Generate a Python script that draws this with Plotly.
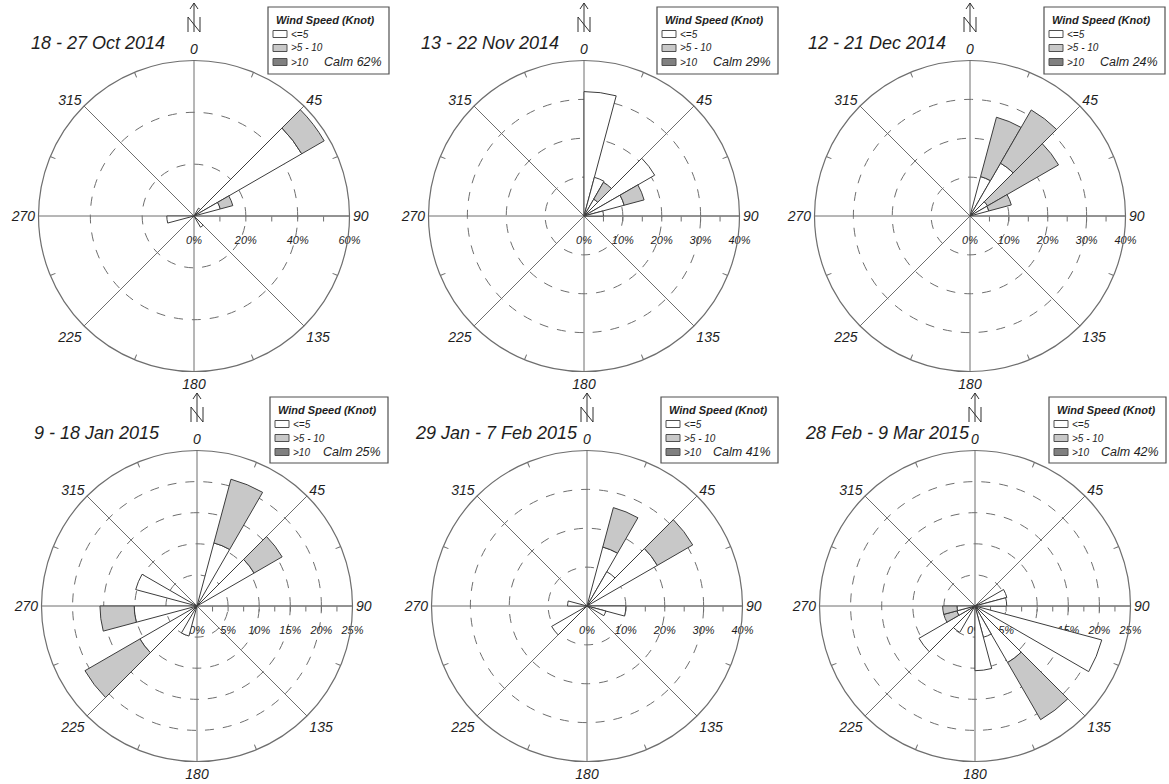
import plotly.graph_objects as go

# ---------------- data ----------------
directions = [7.5, 22.5, 37.5, 52.5, 67.5, 82.5, 97.5, 112.5, 127.5, 142.5, 157.5, 172.5,
              187.5, 202.5, 217.5, 232.5, 247.5, 262.5, 277.5, 292.5, 307.5, 322.5, 337.5, 352.5]
speed_classes = ["<=5", ">5 - 10", ">10"]
compass_labels = ["0", "45", "90", "135", "180", "225", "270", "315"]
compass_angles = [0, 45, 90, 135, 180, 225, 270, 315]

period_titles = ["18 - 27 Oct 2014", "13 - 22 Nov 2014", "12 - 21 Dec 2014",
                 "9 - 18 Jan 2015", "29 Jan - 7 Feb 2015", "28 Feb - 9 Mar 2015"]
calm_percent = [62, 29, 24, 25, 41, 42]
radial_max = [60, 40, 40, 25, 40, 25]
radial_major = [
    [0, 20, 40, 60],
    [0, 10, 20, 30, 40],
    [0, 10, 20, 30, 40],
    [0, 5, 10, 15, 20, 25],
    [0, 10, 20, 30, 40],
    [0, 5, 10, 15, 20, 25],
]
radial_minor = [
    [10, 20, 30, 40, 50],
    [5, 10, 15, 20, 25, 30, 35],
    [5, 10, 15, 20, 25, 30, 35],
    [2.5, 5, 7.5, 10, 12.5, 15, 17.5, 20, 22.5],
    [5, 10, 15, 20, 25, 30, 35],
    [2.5, 5, 7.5, 10, 12.5, 15, 17.5, 20, 22.5],
]

#            0-15 15-30 30-45 45-60 60-75 75-90 90-105 105-120 120-135 135-150 150-165 165-180 180-195 195-210 210-225 225-240 240-255 255-270 270-285 285-300 300-315 315-330 330-345 345-360
oct_low  = [0, 0, 3.5, 48, 10.5, 0, 0, 0, 0, 5, 0, 0, 0, 0, 0, 0, 0, 10.5, 0, 0, 0, 0, 0, 0]
oct_mid  = [0, 0, 0, 10, 5, 0, 0, 0, 0, 0, 0, 0, 0, 0, 0, 0, 0, 0, 0, 0, 0, 0, 0, 0]
oct_high = [0, 0, 0, 0, 0, 0, 0, 0, 0, 0, 0, 0, 0, 0, 0, 0, 0, 0, 0, 0, 0, 0, 0, 0]

nov_low  = [32, 10.3, 5, 21, 10.7, 5, 0, 0, 0, 0, 0, 0, 0, 0, 0, 0, 0, 0, 0, 0, 0, 0, 0, 0]
nov_mid  = [0, 0, 5, 0, 5.3, 0, 0, 0, 0, 0, 0, 0, 0, 0, 0, 0, 0, 0, 0, 0, 0, 0, 0, 0]
nov_high = [0, 0, 0, 0, 0, 0, 0, 0, 0, 0, 0, 0, 0, 0, 0, 0, 0, 0, 0, 0, 0, 0, 0, 0]

dec_low  = [0, 10.5, 15.7, 5.2, 5, 0, 0, 0, 0, 0, 0, 0, 0, 0, 0, 0, 0, 0, 0, 0, 0, 0, 0, 0]
dec_mid  = [0, 15.8, 15.8, 21.1, 6, 0, 0, 0, 0, 0, 0, 0, 0, 0, 0, 0, 0, 0, 0, 0, 0, 0, 0, 0]
dec_high = [0, 0, 0, 0, 0, 0, 0, 0, 0, 0, 0, 0, 0, 0, 0, 0, 0, 0, 0, 0, 0, 0, 0, 0]

jan_low  = [0, 10.5, 0, 10.6, 0, 0, 0, 0, 0, 0, 0, 0, 0, 5, 0, 10.6, 0, 10.1, 0, 10.2, 0, 0, 0, 0]
jan_mid  = [0, 10.6, 0, 5.2, 0, 0, 0, 0, 0, 0, 0, 0, 0, 0, 0, 10.2, 0, 5.5, 0, 0, 0, 0, 0, 0]
jan_high = [0, 0, 0, 0, 0, 0, 0, 0, 0, 0, 0, 0, 0, 0, 0, 0, 0, 0, 0, 0, 0, 0, 0, 0]

feb_low  = [0, 15.7, 10.2, 20.9, 0, 0, 10, 5, 0, 0, 0, 0, 0, 0, 0, 10.5, 0, 0, 5, 0, 0, 0, 0, 0]
feb_mid  = [0, 10.5, 0, 10.5, 0, 0, 0, 0, 0, 0, 0, 0, 0, 0, 0, 0, 0, 0, 0, 0, 0, 0, 0, 0]
feb_high = [0, 0, 0, 0, 0, 0, 0, 0, 0, 0, 0, 0, 0, 0, 0, 0, 0, 0, 0, 0, 0, 0, 0, 0]

mar_low  = [0, 0, 0, 0, 5.3, 5.1, 0, 21.1, 0, 10.5, 5.2, 10.4, 0, 0, 4.9, 10.4, 3, 2.9, 0, 0, 0, 0, 0, 0]
mar_mid  = [0, 0, 0, 0, 0, 0, 0, 0, 0, 10.6, 0, 0, 0, 0, 0, 0, 2.2, 2.3, 0, 0, 0, 0, 0, 0]
mar_high = [0, 0, 0, 0, 0, 0, 0, 0, 0, 0, 0, 0, 0, 0, 0, 0, 0, 0, 0, 0, 0, 0, 0, 0]

panel_series = [
    (oct_low, oct_mid, oct_high),
    (nov_low, nov_mid, nov_high),
    (dec_low, dec_mid, dec_high),
    (jan_low, jan_mid, jan_high),
    (feb_low, feb_mid, feb_high),
    (mar_low, mar_mid, mar_high),
]

# ---------------- style / layout ----------------
W, H = 1169, 784
R = 155.5
centers = [(194, 216), (584, 216), (970, 216), (197, 606), (587, 606), (975, 606)]
title_pos = [(29, 43), (419, 43), (806, 43), (32, 433), (413, 433), (803, 433)]
legend_boxes = [(268, 7, 389, 74), (657, 7, 778, 74), (1044, 7, 1165, 74),
                (270, 397, 388, 463), (661, 397, 778, 463), (1049, 397, 1166, 463)]
class_colors = ["#ffffff", "#c8c8c8", "#808080"]
FONT = "Liberation Sans, Arial, sans-serif"
OUTLINE = "#3c3c3c"
GRID = "#6e6e6e"
TXT = "#1e1e1e"


def fx(x):
    return x / W


def fy(y):
    return 1 - y / H


fig = go.Figure()
layout = dict(
    width=W, height=H, autosize=False,
    margin=dict(l=0, r=0, t=0, b=0),
    paper_bgcolor="white", plot_bgcolor="white",
    showlegend=False,
    font=dict(family=FONT, color=TXT),
)
shapes = []
annotations = []

for i in range(6):
    cx, cy = centers[i]
    dom = dict(x=[fx(cx - R), fx(cx + R)], y=[fy(cy + R), fy(cy - R)])
    back = "polar" if i == 0 else f"polar{2 * i + 1}"
    front = f"polar{2 * i + 2}"
    rmax = radial_max[i]

    # back polar: spokes, dashed circles, labels
    layout[back] = dict(
        domain=dom,
        bgcolor="white",
        angularaxis=dict(
            direction="clockwise", rotation=90,
            tickmode="array", tickvals=compass_angles, ticktext=compass_labels,
            showgrid=True, gridcolor=GRID, gridwidth=1,
            showline=True, linecolor=GRID, linewidth=1.2,
            ticks="", tickfont=dict(size=14, style="italic", family=FONT, color=TXT),
        ),
        radialaxis=dict(
            range=[0, rmax], angle=0, side="clockwise",
            tickmode="array", tickvals=radial_major[i],
            ticktext=[f"<br>{v}%" for v in radial_major[i]],
            showgrid=True, gridcolor=GRID, gridwidth=1, griddash="dash",
            showline=True, linecolor=GRID, linewidth=1,
            ticks="", tickangle=0,
            tickfont=dict(size=11, style="italic", family=FONT, color=TXT),
            layer="below traces",
        ),
    )
    fig.add_trace(go.Scatterpolar(r=[0, 0], theta=[0, 0], mode="lines",
                                  line=dict(width=0), hoverinfo="skip",
                                  subplot=back, showlegend=False))

    # front polar: bars + minor ticks
    layout[front] = dict(
        domain=dom,
        bgcolor="rgba(0,0,0,0)",
        barmode="stack",
        angularaxis=dict(
            direction="clockwise", rotation=90,
            tickmode="array",
            tickvals=[22.5, 67.5, 112.5, 157.5, 202.5, 247.5, 292.5, 337.5],
            ticktext=[""] * 8,
            showgrid=False, showline=False,
            ticks="inside", ticklen=5, tickcolor=GRID, tickwidth=1,
            layer="below traces",
        ),
        radialaxis=dict(
            range=[0, rmax], angle=0, side="clockwise",
            tickmode="array", tickvals=radial_minor[i],
            ticktext=[""] * len(radial_minor[i]),
            showgrid=False, showline=False,
            ticks="outside", ticklen=5, tickcolor=GRID, tickwidth=1,
            layer="below traces",
        ),
    )
    for k, vals in enumerate(panel_series[i]):
        fig.add_trace(go.Barpolar(
            r=[v if v > 0 else None for v in vals],
            theta=directions,
            width=[15] * len(directions),
            name=speed_classes[k],
            marker=dict(color=class_colors[k], line=dict(color=OUTLINE, width=1)),
            subplot=front, showlegend=False,
        ))

    # title
    tx, ty = title_pos[i]
    annotations.append(dict(
        x=fx(tx), y=fy(ty), xref="paper", yref="paper", xanchor="left", yanchor="middle",
        text=period_titles[i], showarrow=False,
        font=dict(size=18, style="italic", family=FONT, color=TXT)))

    # legend box
    bx0, by0, bx1, by1 = legend_boxes[i]
    shapes.append(dict(type="rect", xref="paper", yref="paper",
                       x0=fx(bx0), x1=fx(bx1), y0=fy(by1), y1=fy(by0),
                       line=dict(color="#505050", width=1.2), fillcolor="white"))
    annotations.append(dict(
        x=fx(bx0 + 6), y=fy(by0 + 13), xref="paper", yref="paper", xanchor="left",
        yanchor="middle", text="Wind Speed (Knot)", showarrow=False,
        font=dict(size=11, style="italic", weight="bold", family=FONT, color=TXT)))
    for k in range(3):
        ry = by0 + 27 + 14 * k
        shapes.append(dict(type="rect", xref="paper", yref="paper",
                           x0=fx(bx0 + 5), x1=fx(bx0 + 19), y0=fy(ry + 3.5), y1=fy(ry - 3.5),
                           line=dict(color="#505050", width=1), fillcolor=class_colors[k]))
        annotations.append(dict(
            x=fx(bx0 + 21), y=fy(ry), xref="paper", yref="paper", xanchor="left",
            yanchor="middle", text=speed_classes[k].replace("<", "&lt;").replace(">", "&gt;"),
            showarrow=False, font=dict(size=10, style="italic", family=FONT, color=TXT)))
    annotations.append(dict(
        x=fx(bx1 - 5), y=fy(by0 + 55), xref="paper", yref="paper", xanchor="right",
        yanchor="middle", text=f"Calm {calm_percent[i]}%", showarrow=False,
        font=dict(size=12.5, style="italic", family=FONT, color=TXT)))

    # north arrow
    top = cy - 216
    ncol = "#303030"
    segs = [
        (cx, top + 3, cx, top + 32),
        (cx - 4, top + 9, cx, top + 3),
        (cx, top + 3, cx + 4, top + 9),
        (cx - 6, top + 17, cx - 6, top + 32),
        (cx - 6, top + 17, cx + 6, top + 32),
        (cx + 6, top + 17, cx + 6, top + 32),
    ]
    for (x0, y0, x1, y1) in segs:
        shapes.append(dict(type="line", xref="paper", yref="paper",
                           x0=fx(x0), y0=fy(y0), x1=fx(x1), y1=fy(y1),
                           line=dict(color=ncol, width=1)))

layout["shapes"] = shapes
layout["annotations"] = annotations
fig.update_layout(**layout)
fig.write_html("out.html",
               config={"displayModeBar": False, "staticPlot": True},
               post_script="document.body.style.margin='0';document.body.style.overflow='hidden';")
